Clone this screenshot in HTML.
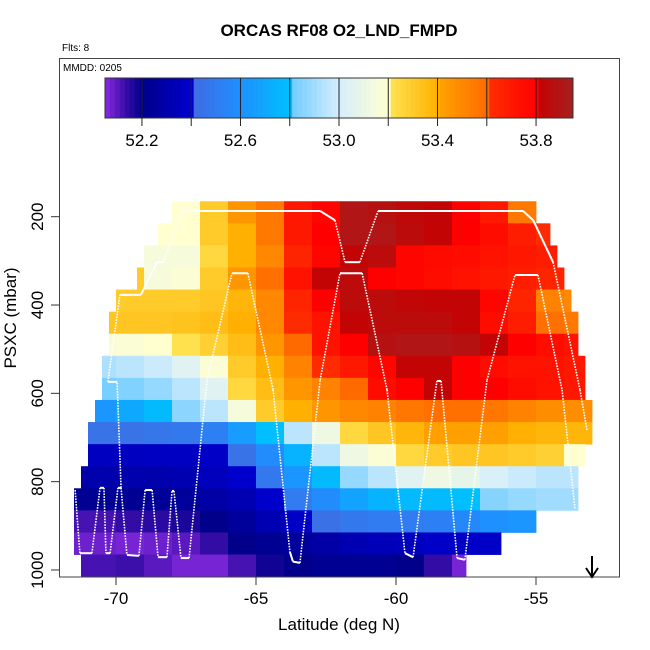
<!DOCTYPE html>
<html><head><meta charset="utf-8">
<style>
html,body{margin:0;padding:0;background:#fff;}
svg{display:block;font-family:"Liberation Sans",Arial,sans-serif;}
</style></head>
<body>
<svg id="chart" width="650" height="650" viewBox="0 0 650 650" xmlns="http://www.w3.org/2000/svg">
  <rect x="0" y="0" width="650" height="650" fill="#fff"/>
  <text x="339" y="36" text-anchor="middle" font-size="17" font-weight="bold">ORCAS RF08 O2_LND_FMPD</text>
  <text x="62" y="51" font-size="10">Flts: 8</text>
  <g id="cells"></g>
  <g id="track"></g>
  <g id="cbar"></g>
  <rect x="59.5" y="58.5" width="560" height="518.5" fill="none" stroke="#444" stroke-width="1"/>
  <text x="63" y="71" font-size="10">MMDD: 0205</text>
  <g id="xaxis"></g>
  <g id="yaxis"></g>
  <text x="339" y="630" text-anchor="middle" font-size="17">Latitude (deg N)</text>
  <text x="0" y="0" transform="translate(16,318) rotate(-90)" text-anchor="middle" font-size="17">PSXC (mbar)</text>
  <path d="M592,556 L592,576 M586,568 L592,577 L598,568" fill="none" stroke="#000" stroke-width="2"/>
</svg>
<script>
// ---- data ----
const xTicks = [-70, -65, -60, -55];
const yTicks = [200, 400, 600, 800, 1000];
const cbTicks = [52.2, 52.4, 52.6, 52.8, 53.0, 53.2, 53.4, 53.6, 53.8];
const cbTickLabels = ["52.2", "52.6", "53.0", "53.4", "53.8"];
const rowPressure = [190,240,290,340,390,440,490,540,590,640,690,740,790,840,890,940,990];
const rowStart = [-68,-68.5,-69,-69.25,-70,-70.25,-70.25,-70.5,-70.5,-70.75,-71,-71,-71.25,-71.5,-71.5,-71.5,-71.25];
const rowEnd = [-55,-54.5,-54.25,-54,-53.75,-53.5,-53.5,-53.25,-53.25,-53,-53,-53.25,-53.5,-53.5,-55,-56.25,-57.5];
const colLat0 = -72; // first value column spans [-72,-71]
const row0 = [null,null,null,53.2,53.2,53.3,53.45,53.55,53.7,53.78,53.9,53.88,53.84,53.82,53.8,53.7,53.55];
const row1 = [null,null,null,53.2,53.2,53.3,53.4,53.55,53.7,53.8,53.9,53.9,53.85,53.82,53.8,53.75,53.68,53.62];
const row2 = [null,null,53.3,53.15,53.15,53.25,53.4,53.5,53.65,53.78,53.82,53.85,53.78,53.76,53.75,53.72,53.7,53.68];
const row3 = [null,null,53.3,53.15,53.18,53.3,53.45,53.58,53.72,53.82,53.85,53.8,53.78,53.75,53.72,53.7,53.68,53.65];
const row4 = [null,53.3,53.3,53.3,53.3,53.32,53.38,53.5,53.65,53.8,53.85,53.85,53.83,53.82,53.82,53.78,53.65,53.52,53.5];
const row5 = [null,53.32,53.32,53.32,53.33,53.35,53.4,53.5,53.62,53.72,53.82,53.85,53.85,53.85,53.82,53.75,53.68,53.58,53.55];
const row6 = [null,53.17,53.18,53.2,53.22,53.28,53.35,53.45,53.6,53.72,53.8,53.88,53.9,53.9,53.88,53.82,53.8,53.75,53.72];
const row7 = [null,52.92,52.95,52.98,53.05,53.18,53.3,53.4,53.52,53.62,53.7,53.78,53.82,53.82,53.8,53.75,53.72,53.72,53.7];
const row8 = [null,52.82,52.84,52.88,52.95,53.05,53.25,53.35,53.45,53.52,53.6,53.75,53.8,53.82,53.8,53.8,53.75,53.72,53.7];
const row9 = [null,52.62,52.7,52.78,52.86,52.95,53.15,53.3,53.4,53.45,53.5,53.52,53.56,53.58,53.58,53.56,53.52,53.48,53.48];
const row10 = [52.45,52.45,52.45,52.47,52.48,52.52,52.65,52.8,52.95,53.12,53.25,53.32,53.38,53.42,53.42,53.42,53.4,53.38,53.38];
const row11 = [52.35,52.36,52.36,52.37,52.37,52.38,52.45,52.58,52.75,52.95,53.12,53.18,53.25,53.3,53.32,53.32,53.3,53.28,53.2];
const row12 = [52.28,52.3,52.3,52.3,52.32,52.35,52.4,52.48,52.62,52.78,52.88,52.95,53.05,53.12,53.08,53.02,52.98,52.95,52.95];
const row13 = [52.22,52.22,52.22,52.24,52.25,52.28,52.32,52.4,52.5,52.58,52.68,52.75,52.78,52.78,52.8,52.85,52.88,52.9,52.9];
const row14 = [52.12,52.12,52.14,52.15,52.17,52.2,52.25,52.32,52.38,52.44,52.48,52.5,52.5,52.52,52.56,52.6,52.62];
const row15 = [52.08,52.08,52.07,52.08,52.1,52.14,52.2,52.22,52.25,52.28,52.32,52.34,52.35,52.38,52.38,52.38];
const row16 = [52.12,52.12,52.13,52.1,52.07,52.07,52.12,52.18,52.2,52.22,52.22,52.22,52.2,52.14,52.07];
const rowValues = [row0,row1,row2,row3,row4,row5,row6,row7,row8,row9,row10,row11,row12,row13,row14,row15,row16];
// flight track (latitude, pressure)
const trackLowLat = [-71.46,-71.29,-70.86,-70.57,-70.43,-70.36,-70.21,-69.93,-69.82,-69.61,-69.18,-68.96,-68.71,-68.5,-68.18,-68.0,-67.93,-67.68,-67.39,-66.75,-65.86,-65.29,-64.39,-63.79,-63.68,-63.43,-62.71,-62.0,-61.21,-60.32,-59.68,-59.39,-58.54,-58.39,-57.82,-57.54,-56.75,-55.75,-54.93,-54.07,-53.61];
const trackLowP = [819,962,962,814,814,962,962,814,814,966,968,819,819,971,971,821,821,973,973,570,328,328,592,959,981,984,570,328,328,592,962,971,572,572,973,977,570,332,332,592,860];
const trackHighLat = [-69.82,-69.96,-70.29,-69.86,-69.11,-68.54,-68.32,-67.61,-62.71,-62.18,-61.82,-61.29,-60.64,-55.46,-55.1,-54.39,-53.43,-53.18];
const trackHighP = [814,574,574,377,377,303,303,187,187,208,303,303,187,187,208,303,592,683];

// ---- scales ----
const vMin = 52.05, vMax = 53.95;
function xOf(lat){ return 116 + (lat + 70) * 28.0; }
function yOf(p){ return 216.7 + (p - 200) * 0.4416; }
function cbX(v){ return 105 + (v - vMin) / (vMax - vMin) * 468; }
const stops = [[52.05,[138,43,226]],[52.13,[60,14,170]],[52.2,[0,0,139]],[52.4,[0,0,205]],[52.4001,[65,105,225]],[52.6,[30,144,255]],[52.8,[0,191,255]],[52.8001,[108,203,255]],[53.0,[214,238,252]],[53.2,[255,255,208]],[53.2001,[255,229,85]],[53.4,[255,176,0]],[53.4001,[255,165,0]],[53.6,[255,106,0]],[53.6001,[255,48,0]],[53.8,[255,0,0]],[53.8001,[200,0,0]],[53.95,[165,32,32]]];
function color(v){
  if (v <= stops[0][0]) v = stops[0][0];
  if (v >= stops[stops.length-1][0]) v = stops[stops.length-1][0];
  for (let i = 0; i < stops.length-1; i++){
    const a = stops[i], b = stops[i+1];
    if (v >= a[0] && v <= b[0]){
      const t = (b[0]-a[0]) ? (v-a[0])/(b[0]-a[0]) : 0;
      const c = a[1].map((x,j)=>Math.round(x + (b[1][j]-x)*t));
      return 'rgb(' + c.join(',') + ')';
    }
  }
  return '#fff';
}
const NS = 'http://www.w3.org/2000/svg';
function mk(tag, attrs, parent){
  const e = document.createElementNS(NS, tag);
  for (const k in attrs) e.setAttribute(k, attrs[k]);
  parent.appendChild(e);
  return e;
}

// ---- heatmap ----
const cells = document.getElementById('cells');
rowValues.forEach((vals, r) => {
  const yTop = yOf(rowPressure[r] - 25), yBot = yOf(rowPressure[r] + 25);
  vals.forEach((v, k) => {
    if (v === null) return;
    const l0 = Math.max(colLat0 + k, rowStart[r]);
    const l1 = Math.min(colLat0 + k + 1, rowEnd[r]);
    if (l1 <= l0) return;
    const el = mk('rect', {x: xOf(l0), y: yTop, width: xOf(l1) - xOf(l0) + 0.4, height: yBot - yTop + 0.4, fill: color(v)}, cells);
    
    
  });
});

// ---- track ----
const track = document.getElementById('track');
function drawTrack(lats, ps, name){
  for (let i = 0; i < lats.length-1; i++){
    const x1 = xOf(lats[i]), y1 = yOf(ps[i]), x2 = xOf(lats[i+1]), y2 = yOf(ps[i+1]);
    const steep = Math.abs(y2-y1) > 2.2 * Math.abs(x2-x1) + 4;
    const el = mk('line', {x1:x1, y1:y1, x2:x2, y2:y2, stroke:'#fff', 'stroke-width': steep ? 1.6 : 2, 'stroke-dasharray': steep ? '1.6,1.2' : 'none', 'stroke-linecap':'butt'}, track);
    
    
  }
}
drawTrack(trackLowLat, trackLowP, 'track-segment-low');
drawTrack(trackHighLat, trackHighP, 'track-segment-high');

// ---- colorbar ----
const cbar = document.getElementById('cbar');
for (let v = vMin; v < vMax - 1e-9; v += 0.02){
  const x0 = cbX(v), x1 = cbX(Math.min(v + 0.02, vMax));
  const el = mk('rect', {x: x0, y: 78, width: x1 - x0 + 0.4, height: 40, fill: color(v + 0.01)}, cbar);
  
  
}
const cbFrame = mk('rect', {x: 105, y: 78, width: 468, height: 40, fill: 'none', stroke: '#333', 'stroke-width': 1}, cbar);


cbTicks.forEach((t, i) => {
  const x = cbX(t);
  const ln = mk('line', {x1: x, y1: 78, x2: x, y2: 126, stroke: '#222', 'stroke-width': 1}, cbar);
  
  
});
cbTickLabels.forEach(s => {
  const tx = mk('text', {x: cbX(parseFloat(s)), y: 146, 'text-anchor': 'middle', 'font-size': 17}, cbar);
  tx.textContent = s;
  
  
});

// ---- axes ----
const xa = document.getElementById('xaxis');
xTicks.forEach(t => {
  const x = xOf(t);
  const ln = mk('line', {x1: x, y1: 577, x2: x, y2: 585, stroke: '#333', 'stroke-width': 1}, xa);
  
  
  const tx = mk('text', {x: x, y: 604, 'text-anchor': 'middle', 'font-size': 17}, xa);
  tx.textContent = String(t);
  
  
});
const ya = document.getElementById('yaxis');
yTicks.forEach(t => {
  const y = yOf(t);
  const ln = mk('line', {x1: 51, y1: y, x2: 59.5, y2: y, stroke: '#333', 'stroke-width': 1}, ya);
  
  
  const tx = mk('text', {x: 0, y: 0, transform: 'translate(43,' + y + ') rotate(-90)', 'text-anchor': 'middle', 'font-size': 17}, ya);
  tx.textContent = String(t);
  
  
});
</script>
</body></html>
